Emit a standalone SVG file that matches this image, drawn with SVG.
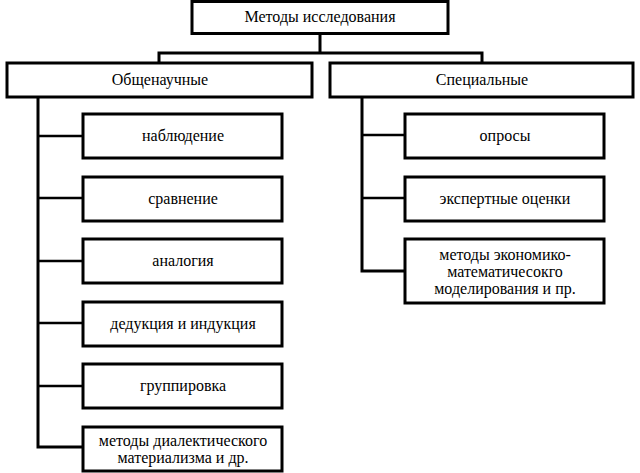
<svg xmlns="http://www.w3.org/2000/svg" width="640" height="473" viewBox="0 0 640 473">
<style>
.box{fill:#fff;stroke:#000;stroke-width:3}
.t{font-family:'Liberation Serif','Times New Roman','DejaVu Serif',serif;font-size:16px;fill:#000;text-anchor:middle}
.c{fill:none;stroke:#000;stroke-width:3;stroke-linejoin:miter}
.b{fill:none;stroke:#000;stroke-width:2.5}
</style>
<rect width="640" height="473" fill="#fff"/>
<g id="connectors">
<polyline class="c" points="320,33 320,53"/>
<polyline class="c" points="159,63 159,53 482,53 482,63"/>
<polyline class="c" points="38,97 38,447 83,447"/>
<line class="b" x1="38" y1="136" x2="83" y2="136"/>
<line class="b" x1="38" y1="198" x2="83" y2="198"/>
<line class="b" x1="38" y1="261" x2="83" y2="261"/>
<line class="b" x1="38" y1="323" x2="83" y2="323"/>
<line class="b" x1="38" y1="386" x2="83" y2="386"/>
<polyline class="c" points="362,97 362,271 405,271"/>
<line class="b" x1="362" y1="135" x2="405" y2="135"/>
<line class="b" x1="362" y1="198" x2="405" y2="198"/>
</g>
<g id="root"><rect class="box" x="192" y="1.5" width="256" height="32"/><text class="t" x="320" y="22">Методы исследования</text></g>
<g id="general"><rect class="box" x="7" y="63" width="305" height="34"/><text class="t" x="160" y="85">Общенаучные</text></g>
<g id="special"><rect class="box" x="330" y="63" width="303" height="34"/><text class="t" x="482" y="85">Специальные</text></g>
<g id="n1"><rect class="box" x="83" y="114" width="199" height="44"/><text class="t" x="183" y="141">наблюдение</text></g>
<g id="n2"><rect class="box" x="83" y="177" width="199" height="44"/><text class="t" x="183" y="204">сравнение</text></g>
<g id="n3"><rect class="box" x="83" y="239" width="199" height="44"/><text class="t" x="183" y="266">аналогия</text></g>
<g id="n4"><rect class="box" x="83" y="302" width="199" height="44"/><text class="t" x="183" y="329">дедукция и индукция</text></g>
<g id="n5"><rect class="box" x="83" y="364" width="199" height="44"/><text class="t" x="183" y="391">группировка</text></g>
<g id="n6"><rect class="box" x="83" y="427" width="199" height="44"/><text class="t" x="183" y="446">методы диалектического</text><text class="t" x="183" y="463">материализма и др.</text></g>
<g id="s1"><rect class="box" x="405" y="114" width="199" height="44"/><text class="t" x="505" y="141">опросы</text></g>
<g id="s2"><rect class="box" x="405" y="177" width="199" height="44"/><text class="t" x="505" y="204">экспертные оценки</text></g>
<g id="s3"><rect class="box" x="405" y="239" width="199" height="64"/><text class="t" x="505" y="260">методы экономико-</text><text class="t" x="505" y="277">математичесокго</text><text class="t" x="505" y="294">моделирования и пр.</text></g>
</svg>
